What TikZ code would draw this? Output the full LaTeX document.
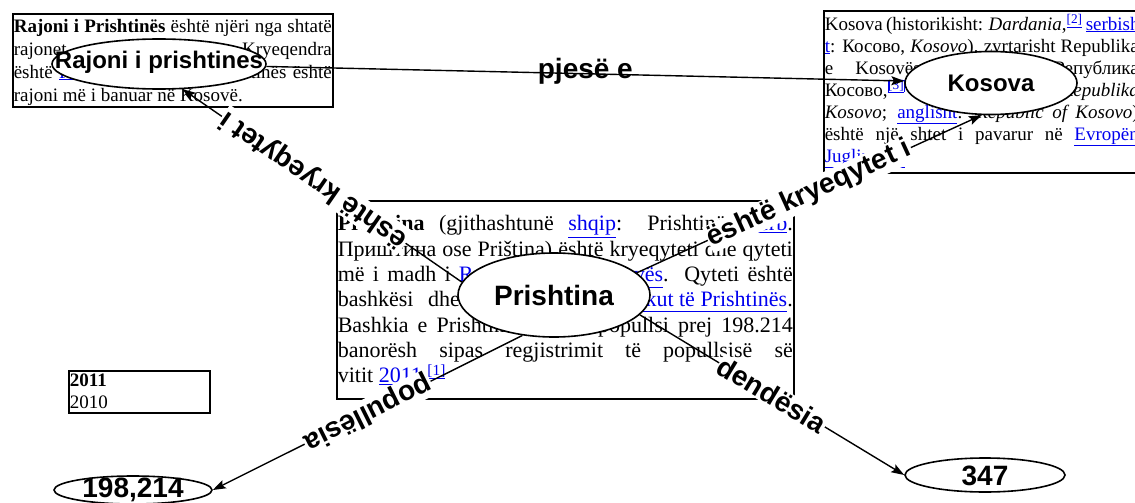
\documentclass[tikz,border=0pt]{standalone}
\usepackage{fontspec}
\setmainfont{Liberation Serif}
\newfontfamily\lsans{Liberation Sans}
\usetikzlibrary{arrows.meta,shapes.geometric}
\definecolor{lb}{RGB}{0,0,238}
\newcommand\lk[1]{{\color{lb}\underline{#1}}}
\newcommand\jl[1]{\makebox[\linewidth][s]{#1}\par}
\newcommand\ctext[2][-0.36em]{\makebox[0pt]{\raisebox{#1}[0pt][0pt]{#2}}}
\begin{document}
\begin{tikzpicture}[x=1pt,y=-1pt,
  txtbox/.style={draw, line width=1.6pt, inner xsep=1pt, inner ysep=0pt, anchor=north west},
  ell/.style={ellipse, draw, fill=white, line width=1.6pt, inner sep=0pt, font=\lsans\bfseries\fontsize{24}{28}\selectfont},
  bigell/.style={ell, font=\lsans\bfseries\fontsize{28}{32}\selectfont},
  edge/.style={line width=1.4pt, -{Stealth[length=13pt,width=9pt,inset=2.5pt]}},
  lbl/.style={sloped, allow upside down, fill=white, inner sep=1pt, font=\lsans\bfseries\fontsize{28}{31}\selectfont},
  lblh/.style={anchor=north, text height=0.42em, text depth=0.22em, inner sep=0pt, font=\lsans\bfseries\fontsize{28}{31}\selectfont},
]
\useasboundingbox (0,0) rectangle (1135,503);

% text boxes
\node[txtbox] (rb) at (12,13) {\parbox[t][93pt][t]{318pt}{\fontsize{19}{23}\selectfont
\jl{\rule{0pt}{18.3pt}\textbf{Rajoni i Prishtinës} është njëri nga shtatë}
\jl{rajonet e Kosovës. Kryeqendra}
\jl{është \lk{Prishtina}. Rajoni i Prishtinës është}
rajoni më i banuar në Kosovë.}};

\node[txtbox] (kb) at (823,10) {\parbox[t][162pt][t]{314pt}{\fontsize{19}{22}\selectfont
\jl{\rule{0pt}{19.3pt}Kosova (historikisht: \textit{Dardania},\textsuperscript{\lk{[2]}} \lk{serbish}}
\jl{\lk{t}: Косово, \textit{Kosovo}), zyrtarisht Republika}
\jl{e Kosovës (serbisht: Република}
\jl{Косово,\textsuperscript{{\color{lb}\fboxsep=0.3pt\fboxrule=0.4pt\fbox{[3]}}} serbisht latinisht: \textit{Republika}}
\jl{\textit{Kosovo}; \lk{anglisht}: \textit{Republic of Kosovo})}
\jl{është një shtet i pavarur në \lk{Evropën}}
\lk{Juglindore}.}};

\node[txtbox] (pb) at (336,200) {\parbox[t][198pt][t]{455pt}{\fontsize{22}{25.3}\selectfont
\jl{\rule{0pt}{30pt}\textbf{Prishtina} (gjithashtunë \lk{shqip}: Prishtinë; \lk{serb}.}
\jl{Приштина ose Priština) është kryeqyteti dhe qyteti}
\jl{më i madh i \lk{Republikës së Kosovës}. Qyteti është}
\jl{bashkësi dhe kryeqendër e \lk{Qarkut të Prishtinës}.}
\jl{Bashkia e Prishtinës ka një popullsi prej 198.214}
\jl{banorësh sipas regjistrimit të popullsisë së}
vitit \lk{2011}.\textsuperscript{\lk{[1]}}}};

\node[txtbox] (yb) at (68,370) {\parbox[t][42pt][t]{139pt}{\fontsize{19}{22}\selectfont
\rule{0pt}{16pt}\textbf{2011}\par
2010}};

% concept nodes
\node[ell, minimum width=214pt, minimum height=50pt] (R) at (159,64) {\ctext[-0.17em]{Rajoni i prishtines}};
\node[ell, minimum width=172pt, minimum height=63pt] (K) at (991,83) {\ctext{Kosova}};
\node[bigell, minimum width=192pt, minimum height=84pt] (P) at (554,295) {\ctext{Prishtina}};
\node[bigell, minimum width=158pt, minimum height=28pt] (N1) at (133,490) {\ctext[-0.27em]{198,214}};
\node[bigell, minimum width=160pt, minimum height=34pt] (N2) at (985,475) {\ctext{347}};

% connectors
\draw[edge] (R) -- node[lblh] {pjesë e} (K);
\draw[edge] (P.172) -- node[lbl, pos=0.53] {është kryeqytet i} (R.-47);
\draw[edge] (P.15) -- node[lbl] {është kryeqytet i} (K.-106);
\draw[edge] (P.232) -- node[lbl] {popullësia} (N1.east);
\draw[edge] (P.-13) -- node[lbl] {dendësia} (N2.west);
\end{tikzpicture}
\end{document}
